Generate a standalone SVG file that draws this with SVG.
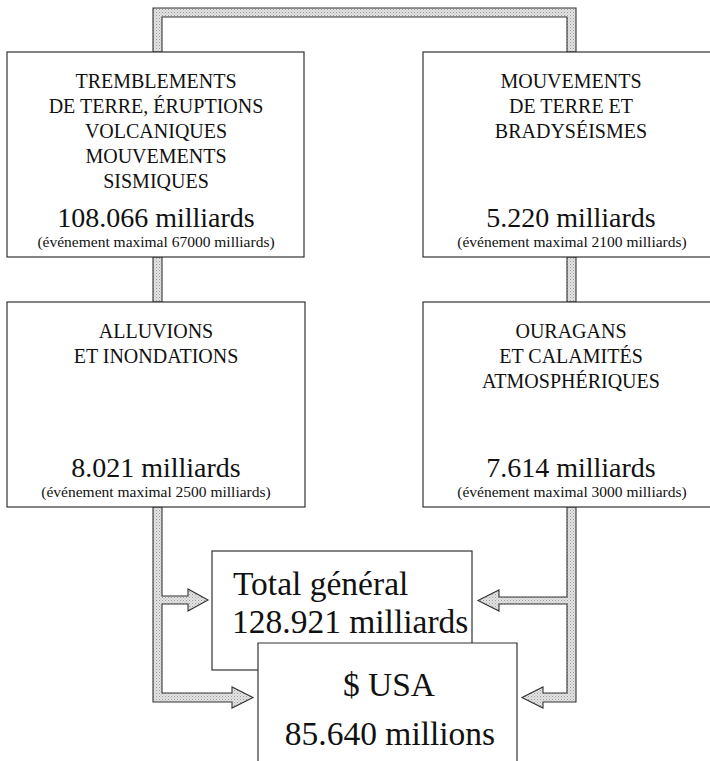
<svg xmlns="http://www.w3.org/2000/svg" width="710" height="761" viewBox="0 0 710 761" font-family="'Liberation Serif', 'Times New Roman', serif">
<defs>
<pattern id="dots" width="3" height="3" patternUnits="userSpaceOnUse">
<rect width="3" height="3" fill="#e4e4e4"/>
<rect x="0" y="0" width="1" height="1" fill="#9a9a9a"/>
<rect x="1.5" y="1.5" width="1" height="1" fill="#b0b0b0"/>
</pattern>
</defs>
<style>
.box{fill:#fff;stroke:#333;stroke-width:1.2}
.pipe{fill:url(#dots);stroke:#333;stroke-width:1.1;stroke-linejoin:miter}
text{font-family:'Liberation Serif','Times New Roman',serif;fill:#111}
.t{font-size:20px;text-anchor:middle}
.n{font-size:28px;text-anchor:middle}
.s{font-size:15.5px;text-anchor:middle}
.b{font-size:33.5px}
</style>
<rect width="710" height="761" fill="#fff"/>
<g id="connectors">
<path class="pipe" d="M153,52 V8 H576 V52 H567 V17 H162 V52 Z"/>
<rect class="pipe" x="153" y="257" width="9" height="45"/>
<rect class="pipe" x="567" y="257" width="9" height="45"/>
<path class="pipe" d="M153,507 V702 H232 V708 L253,697.5 L232,687 V693 H162 V604 H188 V611 L208,600 L188,589 V596 H162 V507 Z"/>
<path class="pipe" d="M576,507 V702 H543 V708 L522,697.5 L543,687 V693 H567 V604 H499 V611 L478,600.5 L499,590 V597 H567 V507 Z"/>
</g>
<g id="n-tremblements">
<rect class="box" x="7" y="52" width="297" height="205"/>
<text class="t" x="156" y="88">TREMBLEMENTS</text>
<text class="t" x="156" y="113">DE TERRE, ÉRUPTIONS</text>
<text class="t" x="156" y="138">VOLCANIQUES</text>
<text class="t" x="156" y="163">MOUVEMENTS</text>
<text class="t" x="156" y="188">SISMIQUES</text>
<text class="n" x="156" y="227">108.066 milliards</text>
<text class="s" x="156" y="247">(événement maximal 67000 milliards)</text>
</g>
<g id="n-mouvements">
<rect class="box" x="423" y="52" width="300" height="205"/>
<text class="t" x="571" y="88">MOUVEMENTS</text>
<text class="t" x="571" y="113">DE TERRE ET</text>
<text class="t" x="571" y="138">BRADYSÉISMES</text>
<text class="n" x="571" y="227">5.220 milliards</text>
<text class="s" x="572" y="247">(événement maximal 2100 milliards)</text>
</g>
<g id="n-alluvions">
<rect class="box" x="7" y="302" width="298" height="205"/>
<text class="t" x="156" y="338">ALLUVIONS</text>
<text class="t" x="156" y="363">ET INONDATIONS</text>
<text class="n" x="156" y="477">8.021 milliards</text>
<text class="s" x="156" y="497">(événement maximal 2500 milliards)</text>
</g>
<g id="n-ouragans">
<rect class="box" x="423" y="302" width="300" height="205"/>
<text class="t" x="571" y="338">OURAGANS</text>
<text class="t" x="571" y="363">ET CALAMITÉS</text>
<text class="t" x="571" y="388">ATMOSPHÉRIQUES</text>
<text class="n" x="571" y="477">7.614 milliards</text>
<text class="s" x="572" y="497">(événement maximal 3000 milliards)</text>
</g>
<g id="n-total">
<rect class="box" x="212" y="551" width="260" height="119"/>
<text class="b" x="233" y="595">Total général</text>
<text class="b" x="232" y="633">128.921 milliards</text>
</g>
<g id="n-usa">
<path d="M258,762 V643 H517 V762 Z" fill="#fff"/>
<path d="M258,762 V643 H517 V762" fill="none" stroke="#333" stroke-width="1.2"/>
<text class="b" x="389" y="696" text-anchor="middle">$ USA</text>
<text class="b" x="390" y="745" text-anchor="middle">85.640 millions</text>
</g>
</svg>
